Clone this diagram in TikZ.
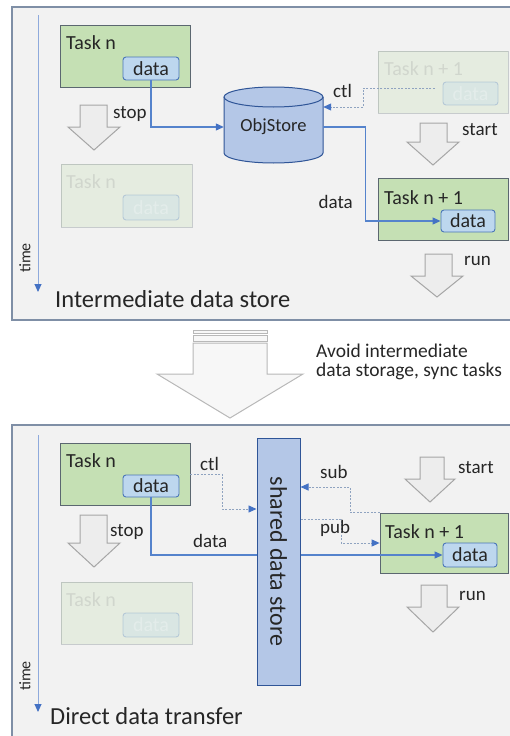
\documentclass[tikz,border=0pt]{standalone}
\usepackage{fontspec}
\setmainfont{Carlito}
\usetikzlibrary{arrows.meta}

\definecolor{panelfill}{HTML}{F2F2F2}
\definecolor{panelline}{HTML}{7F8FA6}
\definecolor{taskfill}{HTML}{C5E0B4}
\definecolor{taskline}{HTML}{5B6770}
\definecolor{datafill}{HTML}{BDD7EE}
\definecolor{dataline}{HTML}{4A76B8}
\definecolor{flowc}{HTML}{5583CC}
\definecolor{tipc}{HTML}{4472C4}
\definecolor{dashc}{HTML}{8FA3C0}
\definecolor{axisc}{HTML}{8FAADC}
\definecolor{storefill}{HTML}{B4C7E7}
\definecolor{storeline}{HTML}{2F5597}
\definecolor{blockfill}{HTML}{EDEDED}
\definecolor{blockline}{HTML}{A6A6A6}
\definecolor{textc}{HTML}{262626}

\newcommand\setpx[1]{\fontsize{#1}{#1}\selectfont}
% block arrow pointing down: left, right, shaft left, shaft right, top, head start, tip
\newcommand\blockdown[7]{%
  \draw[blockarr] (#3,#5) -- (#4,#5) -- (#4,#6) -- (#2,#6) -- ({(#1+#2)/2},#7)
    -- (#1,#6) -- (#3,#6) -- cycle;}

\begin{document}
\begin{tikzpicture}[x=1pt,y=-1pt,
  panelbg/.style={fill=panelfill},
  panelrim/.style={draw=panelline, line width=1.2pt},
  taskbox/.style={draw=taskline, fill=taskfill, line width=0.8pt,
    minimum width=130pt, minimum height=62pt, inner sep=0pt},
  databox/.style={draw=dataline, fill=datafill, rounded corners=3pt, line width=0.9pt,
    minimum width=56pt, minimum height=23pt, inner sep=0pt, font=\setpx{20}, text=textc},
  tasklabel/.style={anchor=base west, inner sep=0pt, font=\setpx{20}, text=textc},
  lbl/.style={anchor=base west, inner sep=0pt, font=\setpx{19}, text=textc},
  title/.style={anchor=base west, inner sep=0pt, font=\setpx{24.5}, text=textc},
  faded/.style={opacity=0.28},
  fadedlabel/.style={tasklabel, text=textc!45},
  flow/.style={draw=flowc, line width=1.1pt, -{Triangle[length=8pt,width=7pt,color=tipc,fill=tipc]}},
  ctlflow/.style={draw=dashc, line width=0.9pt, dash pattern=on 2pt off 1.5pt,
    -{Triangle[length=8pt,width=7pt,color=tipc,fill=tipc]}},
  timeaxis/.style={draw=axisc, line width=1pt, -{Triangle[length=8pt,width=7pt,color=tipc,fill=tipc]}},
  blockarr/.style={fill=blockfill, draw=blockline, line width=1pt, line join=miter},
  bigarr/.style={fill=panelfill!60!white, draw=blockline!80!white, line width=1pt},
  storebox/.style={fill=storefill, draw=storeline, line width=1pt, inner sep=0pt}
]
\useasboundingbox (0,0) rectangle (509,736);

% ---------------- upper panel: intermediate data store ----------------
\fill[panelbg] (12,7) rectangle (512,320);
\draw[panelrim] (512,7) -- (12,7) -- (12,320) -- (512,320);
\coordinate (ta1) at (38,15);
\coordinate (ta2) at (38,292);
\draw[timeaxis] (ta1) -- (ta2);
\node[rotate=90, inner sep=0pt, font=\setpx{16}, text=textc] (time1) at (25,258) {time};
\node[title] (title1) at (55,307) {Intermediate data store};

% task n, finished
\node[taskbox] (t1) at (125,56) {};
\node[tasklabel] (t1l) at (66,49) {Task n};
\node[databox] (d1) at (151,68.5) {data};
\blockdown{68}{120}{80}{107}{105}{127}{150}
\node[lbl] (stop1) at (113,118) {stop};

% task n, faded
\begin{scope}[faded]
  \node[taskbox, minimum width=131pt, minimum height=63pt] (t1b) at (126.5,195.5) {};
  \node[fadedlabel] (t1bl) at (66,188) {Task n};
  \node[databox, text=white, minimum height=25pt] (d1b) at (151,207.5) {data};
\end{scope}

% object store cylinder
\fill[storefill] (224,97) -- (224,153)
  arc[start angle=180, end angle=360, x radius=49.5pt, y radius=10pt]
  -- (323,97) arc[start angle=0, end angle=180, x radius=49.5pt, y radius=10pt] -- cycle;
\draw[storeline, line width=1pt] (224,97) -- (224,153)
  arc[start angle=180, end angle=360, x radius=49.5pt, y radius=10pt] -- (323,97);
\draw[storeline, line width=1pt] (273.5,97) ellipse [x radius=49.5pt, y radius=10pt];
\node[minimum width=99pt, minimum height=76pt, inner sep=0pt, font=\setpx{18.5}, text=textc]
  (obj) at (273.5,127) {ObjStore};

\draw[flow] (d1.south) |- (obj.west);

% task n + 1, before start (faded)
\begin{scope}[faded]
  \node[taskbox] (t2a) at (443,82) {};
  \node[fadedlabel] (t2al) at (384,75) {Task n + 1};
  \node[databox, text=white, minimum width=55pt] (d2a) at (470.5,93.5) {data};
\end{scope}
\coordinate (k0) at (363,107);
\draw[ctlflow] ([xshift=-8pt,yshift=5.5pt]d2a.west) -| (k0) -- (k0 -| obj.east);
\node[lbl] (ctl1) at (333,97) {ctl};

\blockdown{407}{459}{420}{447}{123}{142}{165}
\node[lbl] (start1) at (462,135) {start};

% task n + 1, running
\node[taskbox] (t2) at (443,209) {};
\node[tasklabel] (t2l) at (384,204) {Task n + 1};
\node[databox, minimum width=54pt, minimum height=22pt] (d2) at (468,221) {data};
\draw[flow] (obj.east) -- ++(42,0) |- (d2.west);
\node[lbl, anchor=base east] (data1) at (353,208) {data};

\blockdown{411}{463}{425}{452}{254}{276}{297}
\node[lbl] (run1) at (464,265) {run};

% ---------------- transition ----------------
\draw[bigarr] (193,330) rectangle (267,333);
\draw[bigarr] (193,335.5) rectangle (267,341);
\draw[bigarr] (193,343) -- (267,343) -- (267,374) -- (303,374) -- (230,418)
  -- (157,374) -- (193,374) -- cycle;
\node[anchor=base west, inner sep=0pt, font=\setpx{19.5}, text=textc]
  (avoid1) at (316,357) {Avoid intermediate};
\node[anchor=base west, inner sep=0pt, font=\setpx{19.5}, text=textc]
  (avoid2) at (316,376) {data storage, sync tasks};

% ---------------- lower panel: direct data transfer ----------------
\fill[panelbg] (12,425) rectangle (512,740);
\draw[panelrim] (512,425) -- (12,425) -- (12,740);
\coordinate (tb1) at (38,435);
\coordinate (tb2) at (38,712);
\draw[timeaxis] (tb1) -- (tb2);
\node[rotate=90, inner sep=0pt, font=\setpx{16}, text=textc] (time2) at (25,676) {time};
\node[title] (title2) at (50,724) {Direct data transfer};

% task n
\node[taskbox] (t3) at (125,474) {};
\node[tasklabel] (t3l) at (66,467) {Task n};
\node[databox, minimum height=22pt] (d3) at (151,486) {data};
\blockdown{68}{120}{80}{107}{515}{543}{567}
\node[lbl] (stop2) at (110,536) {stop};

% task n, faded
\begin{scope}[faded]
  \node[taskbox, minimum width=131pt] (t3b) at (126.5,613) {};
  \node[fadedlabel] (t3bl) at (66,606) {Task n};
  \node[databox, text=white, minimum height=24pt] (d3b) at (151,625) {data};
\end{scope}

% task n + 1
\node[taskbox, minimum width=128pt, minimum height=60pt] (t4) at (444,543) {};
\node[tasklabel] (t4l) at (385,538) {Task n + 1};
\node[databox, minimum width=54pt, minimum height=24pt] (d4) at (470,555) {data};

% direct data path runs behind the shared store
\draw[flow] (d3.south) |- (d4.west);
\node[lbl] (data2) at (193,547) {data};

% shared data store
\node[storebox, minimum width=43pt, minimum height=247pt] (store) at (278.5,561.5) {};
\node[rotate=-90, inner sep=0pt, font=\setpx{24}, text=textc] (storetxt) at (store.center) {shared data store};

% control, subscribe, publish
\coordinate (k1) at (222,509);
\draw[ctlflow] (t3.east) -| (k1) -- (k1 -| store.west);
\node[lbl] (ctl2) at (200,470) {ctl};

\coordinate (k2) at (350,487);
\draw[ctlflow] (t4.north west) -| (k2) -- (k2 -| store.east);
\node[lbl] (sub) at (320,478) {sub};

\coordinate (k3) at (341,519);
\draw[ctlflow] (k3 -| store.east) -- (k3) |- (t4.west);
\node[lbl] (pub) at (320,533) {pub};

\blockdown{405}{455}{420}{444}{457}{479}{502}
\node[lbl] (start2) at (458,473) {start};
\blockdown{407}{459}{421}{447}{585}{607}{632}
\node[lbl] (run2) at (459,600) {run};

\end{tikzpicture}
\end{document}
